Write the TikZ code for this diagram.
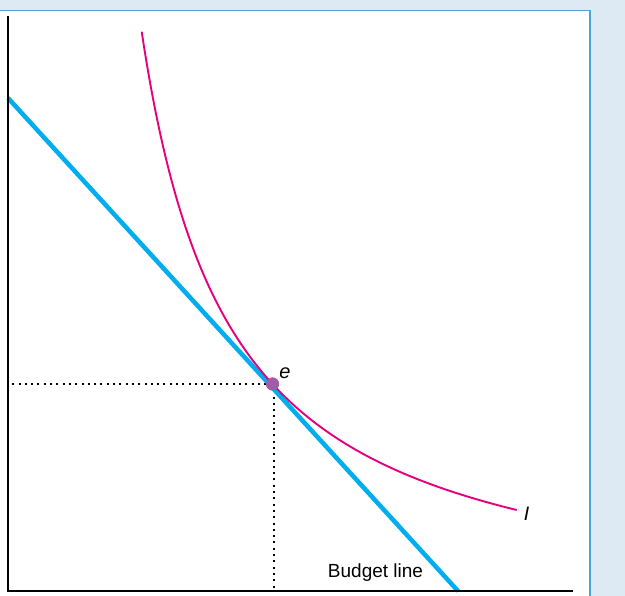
\documentclass[tikz,border=0pt]{standalone}
\usepackage{fontspec}
\setmainfont{Liberation Sans}
\definecolor{bgblue}{HTML}{DDEAF4}
\definecolor{frameblue}{HTML}{4DA3D8}
\definecolor{budgetcyan}{HTML}{00AEEF}
\definecolor{curvemag}{HTML}{E6007E}
\definecolor{dotpurple}{HTML}{A45BA8}
\tikzset{
  axisline/.style={line width=1.8pt, draw=black},
  budgetline/.style={line width=4.5pt, draw=budgetcyan},
  indiff/.style={line width=1.9pt, draw=curvemag},
  guide/.style={line width=2pt, draw=black, dash pattern=on 2pt off 4.3pt},
  optdot/.style={circle, fill=dotpurple, minimum size=13pt, inner sep=0pt},
  lbl/.style={inner sep=0pt, text=black},
}
\begin{document}
\begin{tikzpicture}[x=1pt, y=-1pt]
\useasboundingbox (0,0) rectangle (625,596);
% background panel
\fill[bgblue] (0,0) rectangle (625,596);
\fill[white] (0,10.7) rectangle (589.7,596);
\draw[frameblue, line width=1.6pt] (0,10.7) -- (589.7,10.7) -- (589.7,596);
% coordinates
\coordinate (ytop) at (8.3,16);
\coordinate (orig) at (8.3,591.3);
\coordinate (xend) at (573,591.3);
\coordinate (bstart) at (8,98);
\coordinate (bend) at (458,591);
% guides
\node[optdot] (e) at (272.5,384) {};
\coordinate (ey) at (8.3,384);
\coordinate (ex) at (273.5,591.3);
\draw[guide] (e.center) -- (ey);
\draw[guide] (273.5,384) -- (ex);
% budget line
\draw[budgetline] (bstart) -- (bend);
% indifference curve
\draw[indiff] plot[domain=141.7:516.7, samples=200, smooth] (\x, {623.34 - 525.73/(\x-52.84)*100});
% axes
\draw[axisline] (ytop) -- (orig) -- (xend);
% dot on top
\node[optdot] at (e) {};
% labels
\node[lbl, font=\fontsize{20}{24}\selectfont\itshape] (elabel) at (285,373.5) {e};
\node[lbl, font=\fontsize{19.5}{23}\selectfont\itshape] (ilabel) at (526.5,514) {I};
\node[lbl, font=\fontsize{19}{23}\selectfont, anchor=base] (blabel) at (375.5,577.7) {Budget line};
\end{tikzpicture}
\end{document}
